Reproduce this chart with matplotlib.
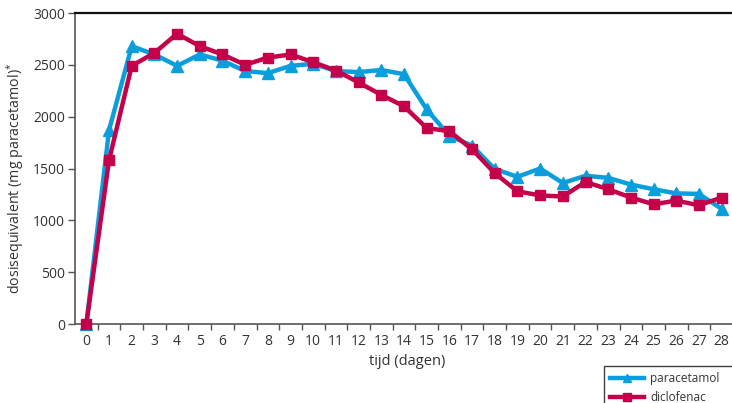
import matplotlib
matplotlib.use("Agg")
import matplotlib.pyplot as plt
import numpy as np

# dagen 0..28
days = list(range(29))

paracetamol = [0, 1870, 2680, 2600, 2490, 2600, 2540, 2440, 2420, 2490,
               2510, 2440, 2430, 2450, 2410, 2070, 1815, 1720, 1495, 1420,
               1500, 1360, 1430, 1410, 1345, 1300, 1260, 1255, 1110]

diclofenac = [0, 1580, 2490, 2615, 2800, 2680, 2600, 2500, 2570, 2600,
              2525, 2445, 2330, 2210, 2100, 1890, 1860, 1685, 1455, 1280,
              1240, 1230, 1370, 1300, 1220, 1155, 1190, 1145, 1220]

series_names = ["paracetamol", "diclofenac"]
y_ticks = [0, 500, 1000, 1500, 2000, 2500, 3000]

blue = "#0A9FDC"
red = "#C4004A"
txt = "#333333"

plt.rcParams["font.family"] = ["Open Sans", "DejaVu Sans"]
plt.rcParams["mathtext.default"] = "regular"
plt.rcParams["text.color"] = txt

fig = plt.figure(figsize=(7.32, 4.03), dpi=100)
ax = fig.add_axes([75 / 732, 1 - 324 / 403, 658 / 732, 311 / 403])

ax.plot(days, paracetamol, color=blue, lw=3.2, marker="^", ms=8,
        clip_on=False, zorder=3, label=series_names[0])
ax.plot(days, diclofenac, color=red, lw=3.2, marker="s", ms=6.5,
        clip_on=False, zorder=4, label=series_names[1])

ax.set_xlim(-0.5, 28.5)
ax.set_ylim(0, 3000)
ax.set_yticks(y_ticks)
ax.set_yticklabels([str(v) for v in y_ticks])
ax.set_xticks(days)
ax.set_xticklabels([str(d) for d in days])
ax.set_xticks(np.arange(0.5, 28.5, 1), minor=True)

ax.tick_params(axis="x", which="major", length=0, pad=7, labelsize=10,
               labelcolor=txt)
ax.tick_params(axis="x", which="minor", length=4, width=1, color="#555555",
               direction="out")
ax.tick_params(axis="y", length=5, width=1, color="#555555", pad=2,
               labelsize=10, labelcolor=txt)

for side in ["left", "bottom"]:
    ax.spines[side].set_color("#555555")
    ax.spines[side].set_linewidth(1.2)
ax.spines["top"].set_color("#111111")
ax.spines["top"].set_linewidth(1.6)
ax.spines["right"].set_visible(False)

ax.set_xlabel("tijd (dagen)", fontsize=10.5, color=txt)
ax.xaxis.set_label_coords((407 - 75) / 658, -30 / 311)
ax.set_ylabel("dosisequivalent (mg paracetamol)$^{*}$", fontsize=10.3,
              color=txt)
ax.yaxis.set_label_coords(-49 / 658, 0.47)

# legend box runs off the right edge, as in the original
leg = ax.legend(loc="upper left",
                bbox_to_anchor=(604 / 732, 1 - 366 / 403 - 0.2, 150 / 732, 0.2),
                bbox_transform=fig.transFigure, mode="expand", fontsize=8.5,
                frameon=True, fancybox=False, edgecolor="#111111",
                handlelength=2.9, borderpad=0.5, labelspacing=0.5,
                handletextpad=0.5, borderaxespad=0, markerscale=0.8)
leg.get_frame().set_linewidth(1.0)

fig.savefig("out.png", dpi=100)
